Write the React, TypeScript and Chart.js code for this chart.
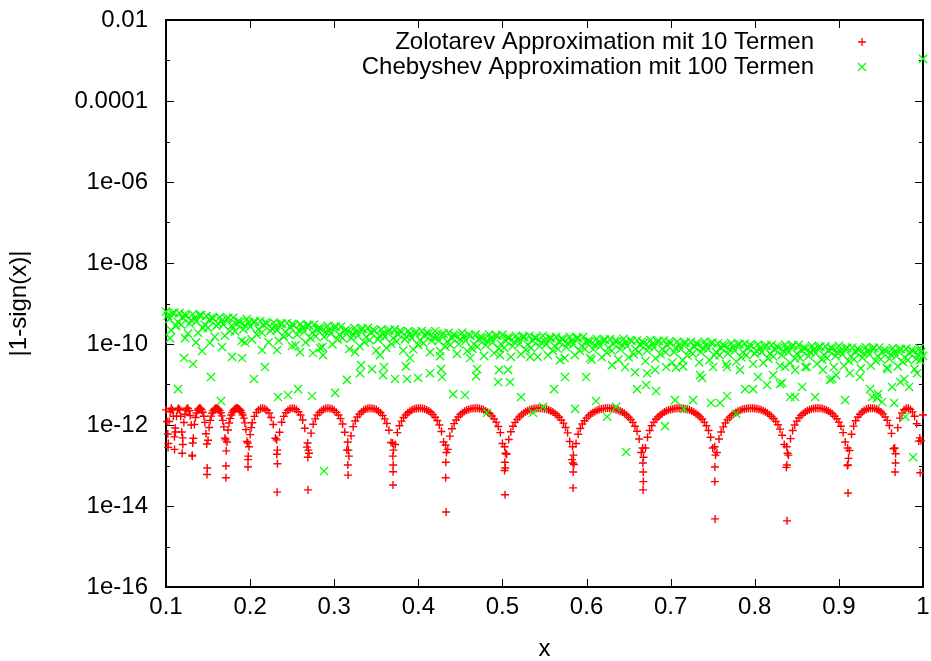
import { useEffect, useRef } from "react";
import { Chart, registerables } from "chart.js";

Chart.register(...registerables);

const FONT_FAMILY = '"Liberation Sans", Arial, Helvetica, sans-serif';

const seriesLabels = [
  "Zolotarev Approximation mit 10 Termen",
  "Chebyshev Approximation mit 100 Termen",
];

const xTickValues = [0.1, 0.2, 0.3, 0.4, 0.5, 0.6, 0.7, 0.8, 0.9, 1.0];
const xTickLabels = ["0.1", "0.2", "0.3", "0.4", "0.5", "0.6", "0.7", "0.8", "0.9", "1"];
const yDecades = [-16, -15, -14, -13, -12, -11, -10, -9, -8, -7, -6, -5, -4, -3, -2];
const yTickLabels: Record<number, string> = {
  "-2": "0.01",
  "-4": "0.0001",
  "-6": "1e-06",
  "-8": "1e-08",
  "-10": "1e-10",
  "-12": "1e-12",
  "-14": "1e-14",
  "-16": "1e-16",
};

// Zolotarev error: arches between the zeros
const zolotarevArches: [number, number][] = [
  [0.1, 2.36e-12], [0.1025, 2.8e-13], [0.105, 2.12e-12], [0.1075, 2.36e-12], [0.11, 5.1e-13],
  [0.1125, 1.65e-12], [0.115, 2.6e-12], [0.1175, 1.65e-12], [0.12, 3.3e-13], [0.1225, 1.84e-12],
  [0.125, 2.6e-12], [0.1275, 2.24e-12], [0.13, 1.0e-12], [0.1325, 4.7e-13], [0.135, 1.53e-12],
  [0.1375, 2.3e-12], [0.14, 2.6e-12], [0.1425, 2.36e-12], [0.145, 1.65e-12], [0.1475, 6.1e-13],
  [0.15, 4.2e-13], [0.1525, 1.3e-12], [0.155, 1.98e-12], [0.1575, 2.44e-12], [0.16, 2.6e-12],
  [0.1625, 2.45e-12], [0.165, 2.0e-12], [0.1675, 1.3e-12], [0.17, 4.7e-13], [0.1725, 3.8e-13],
  [0.175, 1.12e-12], [0.1775, 1.77e-12], [0.18, 2.24e-12], [0.1825, 2.54e-12], [0.185, 2.6e-12],
  [0.1875, 2.42e-12], [0.19, 2.0e-12], [0.1925, 1.48e-12], [0.195, 7.7e-13], [0.1975, 1.4e-13],
  [0.2, 5.8e-13], [0.205, 1.63e-12], [0.21, 2.36e-12], [0.215, 2.6e-12], [0.22, 2.31e-12],
  [0.225, 1.53e-12], [0.23, 4.7e-13], [0.235, 6.6e-13], [0.24, 1.63e-12], [0.245, 2.32e-12],
  [0.25, 2.6e-12], [0.255, 2.4e-12], [0.26, 1.77e-12], [0.265, 8.3e-13], [0.27, 2.0e-13],
  [0.275, 1.04e-12], [0.28, 1.77e-12], [0.285, 2.28e-12], [0.29, 2.56e-12], [0.295, 2.56e-12],
  [0.3, 2.3e-12], [0.305, 1.77e-12], [0.31, 1.06e-12], [0.315, 2.4e-13], [0.32, 5.4e-13],
  [0.325, 1.26e-12], [0.33, 1.85e-12], [0.335, 2.31e-12], [0.34, 2.55e-12], [0.345, 2.57e-12],
  [0.35, 2.4e-12], [0.355, 2.0e-12], [0.36, 1.42e-12], [0.365, 7.4e-13], [0.37, 7.0e-14],
  [0.375, 6.5e-13], [0.38, 1.25e-12], [0.385, 1.77e-12], [0.39, 2.18e-12], [0.395, 2.47e-12],
  [0.4, 2.6e-12], [0.405, 2.55e-12], [0.41, 2.36e-12], [0.415, 2.03e-12], [0.42, 1.56e-12],
  [0.425, 1.0e-12], [0.43, 3.8e-13], [0.435, 2.5e-13], [0.44, 8.1e-13], [0.445, 1.33e-12],
  [0.45, 1.81e-12], [0.455, 2.17e-12], [0.46, 2.43e-12], [0.465, 2.57e-12], [0.47, 2.58e-12],
  [0.475, 2.48e-12], [0.48, 2.22e-12], [0.485, 1.89e-12], [0.49, 1.42e-12], [0.495, 9.2e-13],
  [0.5, 3.5e-13], [0.505, 1.9e-13], [0.51, 6.8e-13], [0.515, 1.16e-12], [0.52, 1.58e-12],
  [0.525, 1.96e-12], [0.53, 2.24e-12], [0.535, 2.45e-12], [0.54, 2.57e-12], [0.545, 2.6e-12],
  [0.55, 2.51e-12], [0.555, 2.34e-12], [0.56, 2.08e-12], [0.565, 1.73e-12], [0.57, 1.33e-12],
  [0.575, 8.7e-13], [0.58, 3.9e-13], [0.585, 1.06e-13], [0.59, 5.9e-13], [0.595, 1.06e-12],
  [0.6, 1.48e-12], [0.605, 1.86e-12], [0.61, 2.16e-12], [0.615, 2.4e-12], [0.62, 2.54e-12],
  [0.625, 2.6e-12], [0.63, 2.56e-12], [0.635, 2.43e-12], [0.64, 2.21e-12], [0.645, 1.94e-12],
  [0.65, 1.56e-12], [0.655, 1.16e-12], [0.66, 7.0e-13], [0.665, 2.1e-13], [0.67, 2.7e-13],
  [0.675, 7.3e-13], [0.68, 1.18e-12], [0.685, 1.58e-12], [0.69, 1.92e-12], [0.695, 2.21e-12],
  [0.7, 2.42e-12], [0.705, 2.55e-12], [0.71, 2.6e-12], [0.715, 2.55e-12], [0.72, 2.42e-12],
  [0.725, 2.21e-12], [0.73, 1.92e-12], [0.735, 1.58e-12], [0.74, 1.18e-12], [0.745, 7.3e-13],
  [0.75, 2.7e-13], [0.755, 2.1e-13], [0.76, 6.7e-13], [0.765, 1.13e-12], [0.77, 1.53e-12],
  [0.775, 1.89e-12], [0.78, 2.18e-12], [0.785, 2.41e-12], [0.79, 2.54e-12], [0.795, 2.6e-12],
  [0.8, 2.56e-12], [0.805, 2.44e-12], [0.81, 2.24e-12], [0.815, 1.97e-12], [0.82, 1.62e-12],
  [0.825, 1.23e-12], [0.83, 7.9e-13], [0.835, 3.3e-13], [0.84, 1.8e-13], [0.845, 7.3e-13],
  [0.85, 1.25e-12], [0.855, 1.71e-12], [0.86, 2.09e-12], [0.865, 2.37e-12], [0.87, 2.55e-12],
  [0.875, 2.6e-12], [0.88, 2.54e-12], [0.885, 2.34e-12], [0.89, 2.03e-12], [0.895, 1.65e-12],
  [0.9, 1.18e-12], [0.905, 6.5e-13], [0.91, 1.0e-13], [0.915, 5.9e-13], [0.92, 1.27e-12],
  [0.925, 1.85e-12], [0.93, 2.29e-12], [0.935, 2.54e-12], [0.94, 2.6e-12], [0.945, 2.44e-12],
  [0.95, 2.1e-12], [0.955, 1.59e-12], [0.96, 9.7e-13], [0.965, 2.6e-13], [0.97, 8.6e-13],
  [0.975, 1.98e-12], [0.98, 2.55e-12], [0.985, 2.43e-12], [0.99, 1.65e-12], [0.995, 4.0e-13],
  [1.0, 1.77e-12],
];

// Zolotarev: samples in between the ones above (dense sampling of the arches)
const zolotarevArchesFine: [number, number][] = [
  [0.10125, 1.22e-12], [0.10375, 1.22e-12], [0.10625, 2.59e-12], [0.10875, 1.65e-12],
  [0.11125, 6.7e-13], [0.11375, 2.37e-12], [0.11625, 2.37e-12], [0.11875, 6.7e-13],
  [0.12125, 1.15e-12], [0.12375, 2.34e-12], [0.12625, 2.55e-12], [0.12875, 1.72e-12],
  [0.13125, 1.7e-13], [0.13375, 1.03e-12], [0.13625, 1.98e-12], [0.13875, 2.51e-12],
  [0.14125, 2.55e-12], [0.14375, 2.06e-12], [0.14625, 1.16e-12], [0.14875, 6.0e-14],
  [0.15125, 8.7e-13], [0.15375, 1.66e-12], [0.15625, 2.25e-12], [0.15875, 2.56e-12],
  [0.16125, 2.56e-12], [0.16375, 2.27e-12], [0.16625, 1.68e-12], [0.16875, 9.0e-13],
  [0.17125, 5.0e-14], [0.17375, 7.5e-13], [0.17625, 1.46e-12], [0.17875, 2.02e-12],
  [0.18125, 2.43e-12], [0.18375, 2.59e-12], [0.18625, 2.53e-12], [0.18875, 2.26e-12],
  [0.19125, 1.77e-12], [0.19375, 1.13e-12], [0.19625, 3.9e-13], [0.19875, 2.9e-13],
  [0.20125, 8.6e-13],
  [0.2025, 1.14e-12], [0.2075, 2.05e-12], [0.2125, 2.55e-12], [0.2175, 2.51e-12], [0.2225, 1.98e-12],
  [0.2275, 1.03e-12], [0.2325, 1.1e-13], [0.2375, 1.17e-12], [0.2425, 2.02e-12], [0.2475, 2.51e-12],
  [0.2525, 2.55e-12], [0.2575, 2.13e-12], [0.2625, 1.33e-12], [0.2675, 2.85e-13], [0.2725, 6.3e-13],
  [0.2775, 1.42e-12], [0.2825, 2.03e-12], [0.2875, 2.46e-12], [0.2925, 2.6e-12], [0.2975, 2.47e-12],
  [0.3025, 2.05e-12], [0.3075, 1.44e-12], [0.3125, 6.6e-13], [0.3175, 1.7e-13], [0.3225, 9.1e-13],
  [0.3275, 1.58e-12], [0.3325, 2.1e-12], [0.3375, 2.47e-12], [0.3425, 2.6e-12], [0.3475, 2.51e-12],
  [0.3525, 2.22e-12], [0.3575, 1.73e-12], [0.3625, 1.09e-12], [0.3675, 3.7e-13], [0.3725, 3.3e-13],
  [0.3775, 9.6e-13], [0.3825, 1.53e-12], [0.3875, 2.0e-12], [0.3925, 2.36e-12], [0.3975, 2.55e-12],
  [0.4025, 2.6e-12], [0.4075, 2.48e-12], [0.4125, 2.22e-12], [0.4175, 1.8e-12], [0.4225, 1.29e-12],
  [0.4275, 6.9e-13], [0.4325, 5.0e-14], [0.4375, 5.3e-13], [0.4425, 1.08e-12], [0.4475, 1.58e-12],
  [0.4525, 2.0e-12], [0.4575, 2.34e-12], [0.4625, 2.52e-12], [0.4675, 2.6e-12], [0.4725, 2.55e-12],
  [0.4775, 2.38e-12], [0.4825, 2.06e-12], [0.4875, 1.67e-12], [0.4925, 1.18e-12], [0.4975, 6.5e-13],
  [0.5025, 7.5e-14], [0.5075, 4.4e-13], [0.5125, 9.3e-13], [0.5175, 1.38e-12], [0.5225, 1.78e-12],
  [0.5275, 2.11e-12], [0.5325, 2.38e-12], [0.5375, 2.53e-12], [0.5425, 2.6e-12], [0.5475, 2.57e-12],
  [0.5525, 2.44e-12], [0.5575, 2.22e-12], [0.5625, 1.92e-12], [0.5675, 1.55e-12], [0.5725, 1.11e-12],
  [0.5775, 6.4e-13], [0.5825, 1.4e-13], [0.5875, 3.5e-13], [0.5925, 8.2e-13], [0.5975, 1.27e-12],
  [0.6025, 1.68e-12], [0.6075, 2.02e-12], [0.6125, 2.31e-12], [0.6175, 2.48e-12], [0.6225, 2.58e-12],
  [0.6275, 2.59e-12], [0.6325, 2.51e-12], [0.6375, 2.36e-12], [0.6425, 2.08e-12], [0.6475, 1.76e-12],
  [0.6525, 1.37e-12], [0.6575, 9.3e-13], [0.6625, 4.5e-13], [0.6675, 4.0e-14], [0.6725, 5.0e-13],
  [0.6775, 9.6e-13], [0.6825, 1.39e-12], [0.6875, 1.76e-12], [0.6925, 2.08e-12], [0.6975, 2.34e-12],
  [0.7025, 2.5e-12], [0.7075, 2.59e-12], [0.7125, 2.59e-12], [0.7175, 2.5e-12], [0.7225, 2.34e-12],
  [0.7275, 2.08e-12], [0.7325, 1.76e-12], [0.7375, 1.39e-12], [0.7425, 9.6e-13], [0.7475, 5.0e-13],
  [0.7525, 4.0e-14], [0.7575, 4.5e-13], [0.7625, 9.0e-13], [0.7675, 1.34e-12], [0.7725, 1.72e-12],
  [0.7775, 2.03e-12], [0.7825, 2.32e-12], [0.7875, 2.48e-12], [0.7925, 2.58e-12], [0.7975, 2.59e-12],
  [0.8025, 2.51e-12], [0.8075, 2.37e-12], [0.8125, 2.11e-12], [0.8175, 1.8e-12], [0.8225, 1.43e-12],
  [0.8275, 1.01e-12], [0.8325, 5.6e-13], [0.8375, 9.0e-14], [0.8425, 4.6e-13], [0.8475, 1.0e-12],
  [0.8525, 1.5e-12], [0.8575, 1.92e-12], [0.8625, 2.26e-12], [0.8675, 2.48e-12], [0.8725, 2.59e-12],
  [0.8775, 2.58e-12], [0.8825, 2.45e-12], [0.8875, 2.21e-12], [0.8925, 1.87e-12], [0.8975, 1.43e-12],
  [0.9025, 9.3e-13], [0.9075, 3.8e-13], [0.9125, 2.35e-13], [0.9175, 9.4e-13], [0.9225, 1.58e-12],
  [0.9275, 2.08e-12], [0.9325, 2.45e-12], [0.9375, 2.59e-12], [0.9425, 2.55e-12], [0.9475, 2.31e-12],
  [0.9525, 1.88e-12], [0.9575, 1.3e-12], [0.9625, 6.2e-13], [0.9675, 1.95e-13], [0.9725, 1.48e-12],
  [0.9775, 2.37e-12], [0.9825, 2.59e-12], [0.9875, 2.11e-12], [0.9925, 1.07e-12], [0.9975, 4.1e-13],
];

// Zolotarev: samples close to the zeros (the deep dips)
const zolotarevDips: [number, number][] = [
  [0.1022, 6.0e-13], [0.1028, 3.5e-13], [0.1102, 2.5e-13], [0.1109, 8.4e-13],
  [0.1192, 2.0e-13], [0.1198, 4.8e-13], [0.1312, 1.8e-13], [0.1318, 3.6e-13],
  [0.1485, 3.4e-13], [0.149, 8.7e-14], [0.171, 4.3e-13], [0.1716, 2.3e-13], [0.1713, 9.7e-14],
  [0.1972, 3.6e-13], [0.1978, 1.7e-13], [0.1975, 9.2e-14],
  [0.2316, 4.3e-13], [0.2324, 2.4e-13], [0.2318, 1.9e-13], [0.2321, 2.2e-14],
  [0.2684, 3.6e-13], [0.2692, 2.4e-13], [0.2686, 1.6e-13], [0.2689, 2.5e-14],
  [0.316, 3.8e-13], [0.3168, 2.4e-13], [0.3162, 1.03e-13], [0.3165, 5.8e-14],
  [0.3694, 3.6e-13], [0.3704, 2.4e-13], [0.3697, 1.7e-13], [0.3701, 1.03e-13], [0.3699, 3.3e-14],
  [0.4324, 3.2e-13], [0.4334, 2.1e-13], [0.4327, 1.2e-13], [0.433, 7.1e-15],
  [0.5026, 2.9e-13], [0.5036, 2.0e-13], [0.5029, 1.2e-13], [0.5033, 8.7e-14], [0.5031, 1.9e-14],
  [0.5834, 2.9e-13], [0.5844, 1.8e-13], [0.5837, 1.15e-13], [0.5841, 6.9e-14], [0.5839, 2.8e-14],
  [0.6667, 2.7e-13], [0.6677, 1.6e-13], [0.667, 1.15e-13], [0.6674, 6.9e-14], [0.6672, 2.5e-14],
  [0.7523, 2.9e-13], [0.7533, 1.8e-13], [0.7526, 9.2e-14], [0.7528, 4.8e-15],
  [0.8379, 2.9e-13], [0.8389, 2.0e-13], [0.8382, 1.03e-13], [0.8384, 4.3e-15],
  [0.9104, 2.7e-13], [0.9114, 1.5e-13], [0.9107, 1.03e-13], [0.9109, 2.1e-14],
  [0.9663, 2.7e-13], [0.9673, 1.15e-13], [0.9668, 6.9e-14],
  [0.9962, 4.8e-13], [0.9967, 6.6e-14],
];

// Chebyshev error: the dense oscillating band
const chebyshevBand: [number, number][] = [
  [0.1, 6.3e-10], [0.104, 4.1e-10], [0.108, 5.8e-10], [0.112, 2.8e-10],
  [0.116, 5.8e-10], [0.12, 4.4e-10], [0.124, 5.0e-10], [0.128, 3.2e-10],
  [0.132, 5.5e-10], [0.136, 3.6e-10], [0.14, 5.1e-10], [0.144, 2.5e-10],
  [0.148, 4.9e-10], [0.152, 3.8e-10], [0.156, 4.3e-10], [0.16, 2.8e-10],
  [0.164, 4.6e-10], [0.168, 3.0e-10], [0.172, 4.2e-10], [0.176, 2.1e-10], [0.18, 4.5e-10],
  [0.184, 3.1e-10], [0.188, 3.5e-10], [0.192, 2.3e-10], [0.196, 4.1e-10], [0.2, 2.7e-10],
  [0.204, 3.5e-10], [0.208, 1.7e-10], [0.212, 3.7e-10], [0.216, 2.9e-10], [0.22, 3.2e-10], [0.224, 2.1e-10],
  [0.228, 3.4e-10], [0.232, 2.2e-10], [0.236, 3.1e-10], [0.24, 1.5e-10], [0.244, 3.3e-10], [0.248, 2.6e-10], [0.252, 2.9e-10],
  [0.256, 1.7e-10], [0.26, 3.1e-10], [0.264, 2.0e-10], [0.268, 2.9e-10], [0.272, 1.4e-10], [0.276, 3.0e-10], [0.28, 2.3e-10],
  [0.284, 2.4e-10], [0.288, 1.5e-10], [0.292, 2.8e-10], [0.296, 1.8e-10], [0.3, 2.6e-10], [0.304, 1.3e-10], [0.308, 2.7e-10], [0.312, 2.1e-10],
  [0.316, 2.1e-10], [0.32, 1.4e-10], [0.324, 2.5e-10], [0.328, 1.6e-10], [0.332, 2.3e-10], [0.336, 1.1e-10], [0.34, 2.5e-10], [0.344, 1.9e-10], [0.348, 2.1e-10],
  [0.352, 1.3e-10], [0.356, 2.3e-10], [0.36, 1.5e-10], [0.364, 2.1e-10], [0.368, 1.0e-10], [0.372, 2.3e-10], [0.376, 1.7e-10], [0.38, 2.0e-10], [0.384, 1.3e-10],
  [0.388, 2.1e-10], [0.392, 1.4e-10], [0.396, 1.9e-10], [0.4, 9.5e-11], [0.404, 2.1e-10], [0.408, 1.6e-10], [0.412, 1.8e-10], [0.416, 1.2e-10], [0.42, 2.1e-10],
  [0.424, 1.2e-10], [0.428, 1.7e-10], [0.432, 8.6e-11], [0.436, 1.9e-10], [0.44, 1.4e-10], [0.444, 1.6e-10], [0.448, 1.0e-10], [0.452, 1.9e-10], [0.456, 1.2e-10], [0.46, 1.7e-10],
  [0.464, 7.7e-11], [0.468, 1.7e-10], [0.472, 1.3e-10], [0.476, 1.4e-10], [0.48, 9.4e-11], [0.484, 1.7e-10], [0.488, 1.1e-10], [0.492, 1.6e-10], [0.496, 7.7e-11], [0.5, 1.7e-10],
  [0.504, 1.2e-10], [0.508, 1.4e-10], [0.512, 8.8e-11], [0.516, 1.6e-10], [0.52, 1.0e-10], [0.524, 1.5e-10], [0.528, 7.2e-11], [0.532, 1.6e-10], [0.536, 1.2e-10], [0.54, 1.4e-10], [0.544, 8.8e-11], [0.548, 1.6e-10],
  [0.552, 9.8e-11], [0.556, 1.4e-10], [0.56, 6.8e-11], [0.564, 1.5e-10], [0.568, 1.1e-10], [0.572, 1.3e-10], [0.576, 8.3e-11], [0.58, 1.5e-10], [0.584, 9.8e-11], [0.588, 1.4e-10], [0.592, 6.8e-11], [0.596, 1.5e-10], [0.6, 1.1e-10],
  [0.604, 1.15e-10], [0.608, 7.4e-11], [0.612, 1.35e-10], [0.616, 8.8e-11], [0.62, 1.24e-10], [0.624, 6.1e-11], [0.628, 1.32e-10], [0.632, 1.0e-10], [0.636, 1.15e-10], [0.64, 7.4e-11], [0.644, 1.35e-10], [0.648, 8.8e-11], [0.652, 1.24e-10],
  [0.656, 5.6e-11], [0.66, 1.22e-10], [0.664, 9.4e-11], [0.668, 1.06e-10], [0.672, 6.9e-11], [0.676, 1.25e-10], [0.68, 8.1e-11], [0.684, 1.15e-10], [0.688, 5.6e-11], [0.692, 1.22e-10], [0.696, 9.4e-11], [0.7, 1.06e-10],
  [0.704, 6.3e-11], [0.708, 1.15e-10], [0.712, 7.5e-11], [0.716, 1.06e-10], [0.72, 5.2e-11], [0.724, 1.13e-10], [0.728, 8.6e-11], [0.732, 9.8e-11], [0.736, 6.3e-11], [0.74, 1.15e-10], [0.744, 7.5e-11], [0.748, 1.06e-10], [0.752, 5.2e-11],
  [0.756, 1.03e-10], [0.76, 7.9e-11], [0.764, 8.9e-11], [0.768, 5.8e-11], [0.772, 1.05e-10], [0.776, 6.8e-11], [0.78, 9.7e-11], [0.784, 4.7e-11], [0.788, 1.03e-10], [0.792, 7.9e-11], [0.796, 8.9e-11], [0.8, 5.8e-11],
  [0.804, 9.7e-11], [0.808, 6.3e-11], [0.812, 8.9e-11], [0.816, 4.4e-11], [0.82, 9.5e-11], [0.824, 7.3e-11], [0.828, 8.2e-11], [0.832, 5.3e-11], [0.836, 9.7e-11], [0.84, 6.3e-11], [0.844, 8.9e-11], [0.848, 4.4e-11], [0.852, 9.5e-11],
  [0.856, 6.8e-11], [0.86, 7.7e-11], [0.864, 5.0e-11], [0.868, 9.0e-11], [0.872, 5.9e-11], [0.876, 8.3e-11], [0.88, 4.1e-11], [0.884, 8.8e-11], [0.888, 6.8e-11], [0.892, 7.7e-11], [0.896, 5.0e-11], [0.9, 9.0e-11],
  [0.904, 5.5e-11], [0.908, 7.7e-11], [0.912, 3.8e-11], [0.916, 8.2e-11], [0.92, 6.3e-11], [0.924, 7.1e-11], [0.928, 4.6e-11], [0.932, 8.4e-11], [0.936, 5.5e-11], [0.94, 7.7e-11], [0.944, 3.8e-11], [0.948, 8.2e-11], [0.952, 6.3e-11],
  [0.956, 6.7e-11], [0.96, 4.3e-11], [0.964, 7.9e-11], [0.968, 5.1e-11], [0.972, 7.3e-11], [0.976, 3.6e-11], [0.98, 7.7e-11], [0.984, 5.9e-11], [0.988, 6.7e-11], [0.992, 4.3e-11], [0.996, 7.9e-11], [1.0, 5.1e-11],
];

// Chebyshev error: further samples of the band, in between the ones above
const chebyshevBandFine: [number, number][] = [
  [0.102, 5.0e-10], [0.106, 2.2e-10], [0.11, 6.0e-10], [0.114, 3.5e-10], [0.118, 3.0e-10], [0.122, 5.3e-10],
  [0.126, 1.8e-10], [0.13, 3.9e-10], [0.134, 4.4e-10], [0.138, 1.9e-10], [0.142, 5.2e-10], [0.146, 3.0e-10],
  [0.15, 2.5e-10], [0.154, 4.5e-10], [0.158, 1.5e-10], [0.162, 3.2e-10], [0.166, 3.7e-10], [0.17, 1.6e-10],
  [0.174, 4.4e-10], [0.178, 2.8e-10], [0.182, 2.05e-10], [0.186, 3.7e-10], [0.19, 1.2e-10], [0.194, 2.9e-10],
  [0.198, 3.3e-10], [0.202, 1.3e-10], [0.206, 3.6e-10], [0.21, 2.3e-10], [0.214, 1.9e-10], [0.218, 3.4e-10],
  [0.222, 1.1e-10], [0.226, 2.4e-10], [0.23, 2.7e-10], [0.234, 1.2e-10], [0.238, 3.2e-10], [0.242, 2.0e-10],
  [0.246, 1.7e-10], [0.25, 3.1e-10], [0.254, 9.3e-11], [0.258, 2.2e-10], [0.262, 2.5e-10], [0.266, 1.1e-10],
  [0.27, 2.9e-10], [0.274, 1.9e-10], [0.278, 1.55e-10], [0.282, 2.5e-10], [0.286, 8.4e-11], [0.29, 2.0e-10],
  [0.294, 2.2e-10], [0.298, 9.8e-11], [0.302, 2.7e-10], [0.306, 1.7e-10], [0.31, 1.4e-10], [0.314, 2.25e-10],
  [0.318, 7.5e-11], [0.322, 1.75e-10], [0.326, 2.0e-10], [0.33, 8.8e-11], [0.334, 2.4e-10], [0.338, 1.5e-10],
  [0.342, 1.25e-10], [0.346, 2.25e-10], [0.35, 6.9e-11], [0.354, 1.6e-10], [0.358, 1.8e-10], [0.362, 8.0e-11],
  [0.366, 2.2e-10], [0.37, 1.4e-10], [0.374, 1.15e-10], [0.378, 2.1e-10], [0.382, 6.9e-11], [0.386, 1.5e-10],
  [0.39, 1.7e-10], [0.394, 7.4e-11], [0.398, 2.0e-10], [0.402, 1.26e-10], [0.406, 1.05e-10], [0.41, 1.9e-10],
  [0.414, 6.3e-11], [0.418, 1.5e-10], [0.422, 1.5e-10], [0.426, 6.7e-11], [0.43, 1.8e-10], [0.434, 1.14e-10],
  [0.438, 9.5e-11], [0.442, 1.7e-10], [0.446, 5.7e-11], [0.45, 1.33e-10], [0.454, 1.5e-10], [0.458, 6.7e-11],
  [0.462, 1.6e-10], [0.466, 1.0e-10], [0.47, 8.5e-11], [0.474, 1.5e-10], [0.478, 5.1e-11], [0.482, 1.2e-10],
  [0.486, 1.36e-10], [0.49, 6.0e-11], [0.494, 1.6e-10], [0.498, 1.0e-10], [0.502, 8.0e-11], [0.506, 1.44e-10],
  [0.51, 4.8e-11], [0.514, 1.12e-10], [0.518, 1.28e-10], [0.522, 5.6e-11], [0.526, 1.5e-10], [0.53, 9.6e-11],
  [0.534, 8.0e-11], [0.538, 1.44e-10], [0.542, 4.8e-11], [0.546, 1.12e-10], [0.55, 1.2e-10], [0.554, 5.3e-11],
  [0.558, 1.4e-10], [0.562, 9.0e-11], [0.566, 7.5e-11], [0.57, 1.35e-10], [0.574, 4.5e-11], [0.578, 1.05e-10],
  [0.582, 1.2e-10], [0.586, 5.3e-11], [0.59, 1.4e-10], [0.594, 9.0e-11], [0.598, 7.5e-11], [0.602, 1.2e-10],
  [0.606, 4.1e-11], [0.61, 9.5e-11], [0.614, 1.08e-10], [0.618, 4.7e-11], [0.622, 1.28e-10], [0.626, 8.1e-11],
  [0.63, 6.8e-11], [0.634, 1.2e-10], [0.638, 4.1e-11], [0.642, 9.5e-11], [0.646, 1.08e-10], [0.65, 4.7e-11],
  [0.654, 1.19e-10], [0.658, 7.5e-11], [0.662, 6.3e-11], [0.666, 1.13e-10], [0.67, 3.8e-11], [0.674, 8.8e-11],
  [0.678, 1.0e-10], [0.682, 4.4e-11], [0.686, 1.19e-10], [0.69, 7.5e-11], [0.694, 6.3e-11], [0.698, 1.13e-10],
  [0.702, 3.5e-11], [0.706, 8.0e-11], [0.71, 9.2e-11], [0.714, 4.0e-11], [0.718, 1.09e-10], [0.722, 6.9e-11],
  [0.726, 5.8e-11], [0.73, 1.04e-10], [0.734, 3.5e-11], [0.738, 8.0e-11], [0.742, 9.2e-11], [0.746, 4.0e-11],
  [0.75, 1.09e-10], [0.754, 6.3e-11], [0.758, 5.3e-11], [0.762, 9.5e-11], [0.766, 3.2e-11], [0.77, 7.4e-11],
  [0.774, 8.4e-11], [0.778, 3.7e-11], [0.782, 1.0e-10], [0.786, 6.3e-11], [0.79, 5.3e-11], [0.794, 9.5e-11],
  [0.798, 3.2e-11], [0.802, 6.8e-11], [0.806, 7.8e-11], [0.81, 3.4e-11], [0.814, 9.2e-11], [0.818, 5.8e-11],
  [0.822, 4.9e-11], [0.826, 8.7e-11], [0.83, 2.9e-11], [0.834, 6.8e-11], [0.838, 7.8e-11], [0.842, 3.4e-11],
  [0.846, 9.2e-11], [0.85, 5.8e-11], [0.854, 4.5e-11], [0.858, 8.1e-11], [0.862, 2.7e-11], [0.866, 6.3e-11],
  [0.87, 7.2e-11], [0.874, 3.2e-11], [0.878, 8.6e-11], [0.882, 5.4e-11], [0.886, 4.5e-11], [0.89, 8.1e-11],
  [0.894, 2.7e-11], [0.898, 6.3e-11], [0.902, 6.7e-11], [0.906, 2.9e-11], [0.91, 8.0e-11], [0.914, 5.0e-11],
  [0.918, 4.2e-11], [0.922, 7.6e-11], [0.926, 2.5e-11], [0.93, 5.9e-11], [0.934, 6.7e-11], [0.938, 2.9e-11],
  [0.942, 8.0e-11], [0.946, 5.0e-11], [0.95, 4.2e-11], [0.954, 7.1e-11], [0.958, 2.4e-11], [0.962, 5.5e-11],
  [0.966, 6.3e-11], [0.97, 2.8e-11], [0.974, 7.5e-11], [0.978, 4.7e-11], [0.982, 4.0e-11], [0.986, 7.1e-11],
  [0.99, 2.4e-11], [0.994, 5.5e-11], [0.998, 6.3e-11],
];

// Chebyshev: scattered samples below the band, and the value at x = 1
const chebyshevScatter: [number, number][] = [
  [0.1048, 1.4e-10], [0.1143, 7.7e-12], [0.1214, 4.5e-11], [0.1226, 1.4e-10], [0.1321, 3.2e-11],
  [0.1357, 1.1e-10], [0.1428, 6.7e-11], [0.1523, 1.06e-10], [0.1535, 1.53e-11], [0.1654, 3.9e-12],
  [0.1666, 8.4e-11], [0.1785, 4.8e-11], [0.1904, 4.5e-11], [0.1939, 1.1e-10], [0.2046, 1.37e-11],
  [0.2142, 7.1e-11], [0.2177, 2.7e-11], [0.232, 7.1e-11], [0.2332, 4.9e-12], [0.2451, 5.5e-12],
  [0.2498, 8.9e-11], [0.257, 7.7e-12], [0.2593, 6.3e-11], [0.2736, 5.2e-12], [0.2748, 6.0e-11],
  [0.2831, 8.0e-11], [0.2867, 5.3e-11], [0.2879, 7.3e-14], [0.301, 6.2e-12], [0.3152, 1.3e-11],
  [0.3247, 6.3e-11], [0.3307, 1.9e-11], [0.3319, 3.0e-11], [0.3449, 2.4e-11], [0.3545, 5.3e-11],
  [0.358, 1.7e-11], [0.3592, 2.7e-11], [0.3723, 1.37e-11], [0.3854, 2.8e-11], [0.3866, 1.37e-11],
  [0.3901, 4.5e-11], [0.3996, 1.45e-11], [0.4139, 1.9e-11], [0.4258, 5.0e-11], [0.427, 2.4e-11],
  [0.4282, 1.53e-11], [0.4413, 5.8e-12], [0.4555, 5.5e-12], [0.4615, 4.5e-11], [0.4686, 1.6e-11],
  [0.4698, 2.4e-11], [0.4817, 2.0e-12], [0.4948, 1.15e-11], [0.496, 2.3e-11], [0.4971, 5.3e-11],
  [0.5067, 2.3e-11], [0.509, 1.15e-11], [0.5221, 4.9e-12], [0.5328, 4.8e-11], [0.5364, 2.0e-12],
  [0.5483, 2.8e-12], [0.5614, 7.7e-12], [0.5685, 4.0e-11], [0.5744, 1.53e-11], [0.5863, 2.5e-12],
  [0.5994, 1.53e-11], [0.6042, 4.5e-11], [0.6113, 3.9e-12], [0.6244, 1.6e-12], [0.6303, 3.0e-11],
  [0.6351, 2.8e-12], [0.6458, 2.7e-11], [0.647, 2.15e-13], [0.6577, 2.0e-11], [0.66, 7.7e-12],
  [0.6707, 9.7e-12], [0.672, 1.9e-11], [0.6815, 2.3e-11], [0.6826, 6.9e-12], [0.6933, 9.4e-13],
  [0.6945, 2.7e-11], [0.7052, 4.1e-12], [0.7064, 2.6e-11], [0.7147, 2.8e-11], [0.7159, 2.5e-12],
  [0.7266, 4.1e-12], [0.735, 1.7e-11], [0.7373, 1.45e-11], [0.748, 3.5e-12], [0.7504, 2.7e-11],
  [0.7587, 3.5e-12], [0.767, 2.7e-11], [0.7671, 5.2e-12], [0.7778, 1.9e-12], [0.7825, 2.3e-11],
  [0.7885, 7.7e-12], [0.798, 7.7e-12], [0.8039, 1.53e-11], [0.8146, 9.7e-12], [0.8218, 1.7e-11],
  [0.8301, 1.03e-11], [0.8325, 1.1e-11], [0.836, 2.7e-11], [0.842, 4.9e-12], [0.8479, 4.9e-12],
  [0.848, 2.3e-11], [0.8562, 8.7e-12], [0.86, 2.7e-11], [0.8717, 4.9e-12], [0.881, 2.3e-11],
  [0.8895, 1.3e-11], [0.8919, 1.37e-11], [0.8967, 1.7e-11], [0.9074, 4.1e-12], [0.913, 1.9e-11],
  [0.925, 1.53e-11], [0.9371, 7.7e-12], [0.9395, 4.9e-12], [0.9455, 4.6e-12], [0.9466, 5.8e-12],
  [0.9514, 3.7e-12], [0.957, 2.6e-11], [0.9633, 8.7e-12], [0.9657, 3.5e-12], [0.973, 1.15e-11],
  [0.9776, 1.37e-11], [0.979, 1.6e-12], [0.9835, 8.7e-12], [0.9882, 1.6e-13], [0.993, 1.9e-11],
  [0.9966, 4.0e-11], [1.0, 1.1e-3],
];

const RED = "#ff0000";
const GREEN = "#00ff00";

const toPoints = (arr: [number, number][]) => arr.map(([x, y]) => ({ x, y }));

const framePlugin = {
  id: "gnuplotFrame",
  beforeDatasetsDraw(chart: any) {
    const { ctx, chartArea } = chart;
    const { left, right, top, bottom } = chartArea;
    const xs = chart.scales.x;
    const ys = chart.scales.y;
    ctx.save();
    ctx.strokeStyle = "#000";
    ctx.lineWidth = 1;
    ctx.beginPath();
    for (const e of yDecades) {
      const py = Math.round(ys.getPixelForValue(Math.pow(10, e))) + 0.5;
      const len = e % 2 === 0 ? 8 : 4;
      ctx.moveTo(left, py);
      ctx.lineTo(left + len, py);
      ctx.moveTo(right, py);
      ctx.lineTo(right - len, py);
    }
    for (const v of xTickValues) {
      const px = Math.round(xs.getPixelForValue(v)) + 0.5;
      ctx.moveTo(px, bottom);
      ctx.lineTo(px, bottom - 8);
      ctx.moveTo(px, top);
      ctx.lineTo(px, top + 8);
    }
    ctx.stroke();
    ctx.lineWidth = 2;
    ctx.strokeRect(left, top, right - left, bottom - top);
    ctx.restore();
  },
};

const legendPlugin = {
  id: "gnuplotKey",
  afterDatasetsDraw(chart: any) {
    const { ctx } = chart;
    ctx.save();
    ctx.font = `24px ${FONT_FAMILY}`;
    ctx.fillStyle = "#000";
    ctx.textAlign = "right";
    ctx.textBaseline = "middle";
    const textRight = 814;
    const markX = 862;
    const rows = [42, 67];
    ctx.fillText(seriesLabels[0], textRight, rows[0]);
    ctx.fillText(seriesLabels[1], textRight, rows[1]);
    ctx.lineWidth = 1.3;
    ctx.strokeStyle = RED;
    ctx.beginPath();
    ctx.moveTo(markX - 4, rows[0]);
    ctx.lineTo(markX + 4, rows[0]);
    ctx.moveTo(markX, rows[0] - 4);
    ctx.lineTo(markX, rows[0] + 4);
    ctx.stroke();
    ctx.strokeStyle = GREEN;
    ctx.beginPath();
    ctx.moveTo(markX - 4, rows[1] - 4);
    ctx.lineTo(markX + 4, rows[1] + 4);
    ctx.moveTo(markX - 4, rows[1] + 4);
    ctx.lineTo(markX + 4, rows[1] - 4);
    ctx.stroke();
    ctx.restore();
  },
};

export default function App() {
  const canvasRef = useRef<HTMLCanvasElement | null>(null);

  useEffect(() => {
    document.body.style.margin = "0";
    const canvas = canvasRef.current;
    if (!canvas) return;
    const font = { family: FONT_FAMILY, size: 24 };
    const titleFont = { family: FONT_FAMILY, size: 24, lineHeight: 1 };
    const chart = new Chart(canvas, {
      type: "scatter",
      data: {
        datasets: [
          {
            label: seriesLabels[1],
            data: toPoints([...chebyshevBand, ...chebyshevBandFine, ...chebyshevScatter]),
            pointStyle: "crossRot",
            pointRadius: 5.8,
            pointHoverRadius: 5.8,
            pointBorderColor: GREEN,
            pointBackgroundColor: GREEN,
            pointBorderWidth: 1.3,
            borderColor: GREEN,
            showLine: false,
            clip: false,
            order: 0,
          } as any,
          {
            label: seriesLabels[0],
            data: toPoints([...zolotarevArches, ...zolotarevArchesFine, ...zolotarevDips]),
            pointStyle: "cross",
            pointRadius: 4,
            pointHoverRadius: 4,
            pointBorderColor: RED,
            pointBackgroundColor: RED,
            pointBorderWidth: 1.4,
            borderColor: RED,
            showLine: false,
            clip: false,
            order: 1,
          } as any,
        ],
      },
      options: {
        responsive: false,
        animation: false,
        events: [],
        layout: { padding: { left: 0, right: 8, top: 20, bottom: 0 } },
        plugins: {
          legend: { display: false },
          tooltip: { enabled: false },
        },
        scales: {
          x: {
            type: "linear",
            min: 0.1,
            max: 1.0,
            afterBuildTicks: (scale: any) => {
              scale.ticks = xTickValues.map((v) => ({ value: v }));
            },
            afterFit: (scale: any) => {
              scale.height = 74;
              scale.paddingLeft = 0;
              scale.paddingRight = 0;
            },
            ticks: {
              callback: (_v: any, i: number) => xTickLabels[i],
              font,
              color: "#000",
              padding: 6,
              maxRotation: 0,
              autoSkip: false,
            },
            grid: { display: false, drawTicks: false },
            border: { display: false },
            title: {
              display: true,
              text: "x",
              font: titleFont,
              color: "#000",
              padding: { top: 0, bottom: 0 },
            },
          },
          y: {
            type: "logarithmic",
            min: 1e-16,
            max: 1e-2,
            afterBuildTicks: (scale: any) => {
              scale.ticks = yDecades.map((e) => ({ value: Math.pow(10, e) }));
            },
            afterFit: (scale: any) => {
              scale.width = 166;
              scale.paddingTop = 0;
              scale.paddingBottom = 0;
            },
            ticks: {
              callback: (v: any) => {
                const e = Math.round(Math.log10(Number(v)));
                return yTickLabels[e] ?? "";
              },
              font,
              color: "#000",
              padding: 18,
              autoSkip: false,
            },
            grid: { display: false, drawTicks: false },
            border: { display: false },
            title: {
              display: true,
              text: "|1-sign(x)|",
              font: titleFont,
              color: "#000",
              padding: { top: 7, bottom: 0 },
            },
          },
        },
      } as any,
      plugins: [framePlugin, legendPlugin],
    });
    return () => chart.destroy();
  }, []);

  return (
    <canvas
      ref={canvasRef}
      width={931}
      height={661}
      style={{ display: "block", width: 931, height: 661 }}
    />
  );
}
